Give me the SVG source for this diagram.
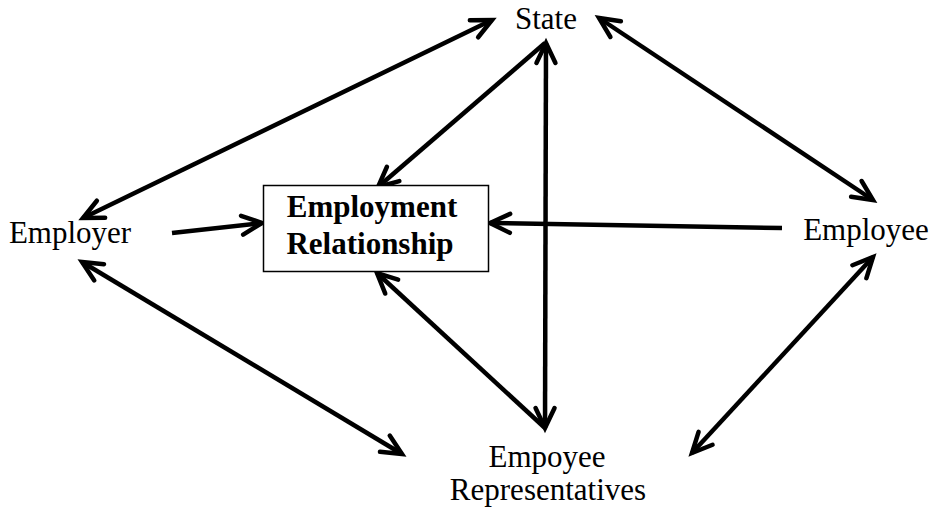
<svg xmlns="http://www.w3.org/2000/svg" width="932" height="509" viewBox="0 0 932 509">
<style>
text{font-family:'Liberation Serif','Times New Roman','DejaVu Serif',serif;font-size:31px;fill:#000;text-anchor:middle}
.bold{font-weight:bold}
.c{stroke:#000;stroke-width:4.5;fill:none;stroke-linecap:butt}
.box{fill:#fff;stroke:#000;stroke-width:1.5}
</style>
<defs>
<marker id="ah" markerUnits="userSpaceOnUse" viewBox="-26 -16 32 32" markerWidth="32" markerHeight="32" refX="0" refY="0" orient="auto-start-reverse">
<path d="M-20,-9.5 L0,0 L-20,9.5" fill="none" stroke="#000" stroke-width="4.5" stroke-linecap="round" stroke-linejoin="miter" stroke-miterlimit="10"/>
</marker>
</defs>
<g id="connectors">
<line class="c" x1="83" y1="218" x2="492" y2="20" marker-start="url(#ah)" marker-end="url(#ah)"/>
<line class="c" x1="599" y1="18" x2="873" y2="200" marker-start="url(#ah)" marker-end="url(#ah)"/>
<line class="c" x1="545" y1="43" x2="378" y2="187" marker-end="url(#ah)"/>
<line class="c" x1="172" y1="233" x2="262" y2="223" marker-end="url(#ah)"/>
<line class="c" x1="782" y1="228" x2="490" y2="223" marker-end="url(#ah)"/>
<line class="c" x1="545" y1="428" x2="377" y2="273" marker-end="url(#ah)"/>
<line class="c" x1="82" y1="262" x2="402" y2="454" marker-start="url(#ah)" marker-end="url(#ah)"/>
<line class="c" x1="873" y1="257" x2="692" y2="453" marker-start="url(#ah)" marker-end="url(#ah)"/>
<line class="c" x1="546" y1="43" x2="545" y2="428" marker-start="url(#ah)" marker-end="url(#ah)"/>
</g>
<g id="state"><text x="546" y="29" font-family="Liberation Serif, serif">State</text></g>
<g id="employer"><text x="70" y="243" font-family="Liberation Serif, serif">Employer</text></g>
<g id="employee"><text x="866" y="240" font-family="Liberation Serif, serif">Employee</text></g>
<g id="reps"><text x="547" y="467" font-family="Liberation Serif, serif">Empoyee</text><text x="548" y="500" font-family="Liberation Serif, serif">Representatives</text></g>
<g id="relationship">
<rect class="box" x="263.5" y="185.5" width="225" height="86"/>
<text class="bold" x="372" y="217" font-family="Liberation Serif, serif">Employment</text>
<text class="bold" x="370" y="254" font-family="Liberation Serif, serif">Relationship</text>
</g>
</svg>
